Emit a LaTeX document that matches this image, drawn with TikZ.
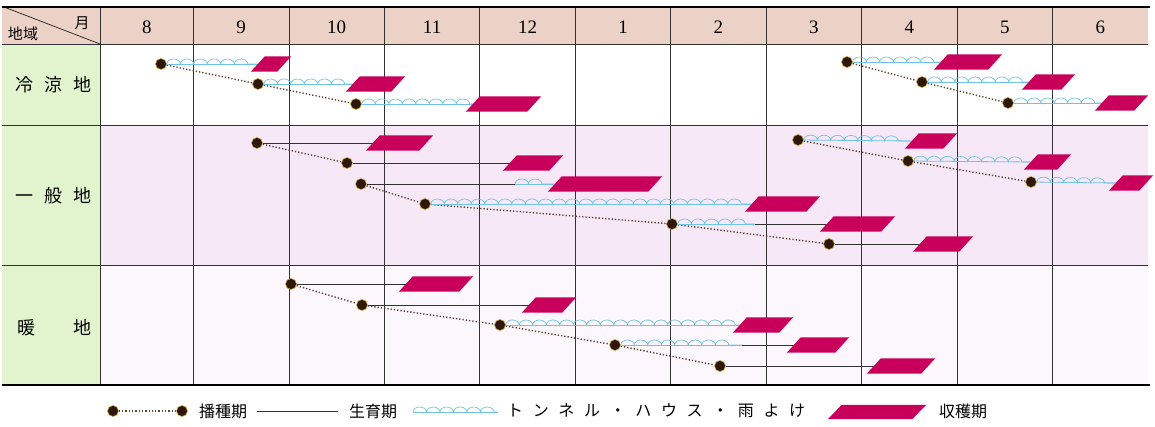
\documentclass[tikz,border=0pt]{standalone}
\usepackage{fontspec}
\setmainfont{Liberation Serif}
\newfontfamily\jp{Noto Sans CJK JP}
\usetikzlibrary{decorations.pathmorphing}
\definecolor{hdr}{RGB}{236,210,198}
\definecolor{leftc}{RGB}{226,244,206}
\definecolor{midrow}{RGB}{246,232,246}
\definecolor{lowrow}{RGB}{252,247,252}
\definecolor{harv}{RGB}{200,0,92}
\definecolor{tun}{RGB}{110,195,230}
\definecolor{dotc}{RGB}{45,22,12}
\definecolor{rim}{RGB}{200,170,60}
\definecolor{gridc}{RGB}{50,50,50}
\definecolor{dotl}{RGB}{95,65,45}
\pgfdeclarelayer{bg}
\pgfsetlayers{bg,main}
\newcommand\tunconn[2]{%
  \draw[tunbase] (#1) -- (#2);
  \draw[tunarch] (#1) -- (#2);}
\begin{document}
\begin{tikzpicture}[x=1pt,y=-1pt,
  sow/.style={circle, fill=dotc, draw=rim, line width=0.6pt, minimum size=11pt, inner sep=0pt},
  harvest/.style={rectangle, inner sep=0pt, minimum height=15pt, minimum width={#1-14}},
  growline/.style={draw=gridc, line width=0.9pt},
  tunbase/.style={draw=tun, line width=0.8pt},
  tunarch/.style={draw=tun, line width=0.7pt, decorate, decoration={bumps, segment length=27pt, amplitude=5pt}},
  seq/.style={draw=dotl, line width=1.4pt, dash pattern=on 1.3pt off 2pt},
  gridline/.style={draw=gridc, line width=0.8pt},
  thick rule/.style={draw=black, line width=2pt},
  month/.style={font=\fontsize{19}{19}\selectfont, inner sep=0pt},
  region/.style={font=\jp\fontsize{18}{18}\selectfont, inner sep=0pt},
  legtext/.style={font=\jp\fontsize{16}{16}\selectfont, inner sep=0pt, anchor=west},
  hdrtext/.style={font=\jp\fontsize{15}{15}\selectfont, inner sep=0pt}
]
\useasboundingbox (0,0) rectangle (1155,427);

\begin{pgfonlayer}{bg}
\fill[hdr] (2,7) rectangle (1148,44);
\fill[leftc] (2,44) rectangle (100,385);
\fill[midrow] (100,125) rectangle (1148,265);
\fill[lowrow] (100,265) rectangle (1148,385);
\draw[gridline] (2,44) -- (1148,44);
\draw[gridline] (2,125) -- (1148,125);
\draw[gridline] (2,265) -- (1148,265);
\draw[gridline] (100,7) -- (100,385);
\foreach \i in {0,...,9} {\draw[gridline] ({193.5+95.45*\i},7) -- ({193.5+95.45*\i},385);}
\draw[gridline] (4,7) -- (100,44);
\draw[thick rule] (2,7) -- (1150,7);
\draw[thick rule] (2,385) -- (1150,385);
\end{pgfonlayer}

% header texts
\node[hdrtext] (hm) at (82,23) {月};
\node[hdrtext] (hr) at (23,34) {地域};
\node[month] (m8) at (146.75,27) {8};
\foreach \m [count=\i from 0] in {9,10,11,12,1,2,3,4,5,6}
  {\node[month] (m\m) at ({193.5+95.45*(\i+0.5)},27) {\m};}

% region labels
\node[region] (r1) at (53.5,85) {\makebox[77pt][s]{冷\hfil 涼\hfil 地}};
\node[region] (r2) at (53.5,196) {\makebox[77pt][s]{一\hfil 般\hfil 地}};
\node[region] (r3) at (54.5,328) {\makebox[75pt][s]{暖\hfil 地}};

% 冷涼地
\node[sow] (a1) at (161,64) {};
\node[sow] (a2) at (258,84) {};
\node[sow] (a3) at (356,104) {};
\node[sow] (a4) at (847,62) {};
\node[sow] (a5) at (922,82) {};
\node[sow] (a6) at (1008,103) {};
\node[harvest=40] (h1) at (271,64) {};
\node[harvest=59] (h2) at (375.5,84) {};
\node[harvest=75] (h3) at (503.5,104) {};
\node[harvest=68] (h4) at (968,62) {};
\node[harvest=53] (h5) at (1048.5,82) {};
\node[harvest=53] (h6) at (1121.5,103) {};

% 一般地
\node[sow] (b1) at (257,143) {};
\node[sow] (b2) at (347,163) {};
\node[sow] (b3) at (361,184) {};
\node[sow] (b4) at (425,204) {};
\node[sow] (b5) at (672,224) {};
\node[sow] (b6) at (829,244) {};
\node[sow] (b7) at (798,140) {};
\node[sow] (b8) at (908,161) {};
\node[sow] (b9) at (1031,182) {};
\node[harvest=67] (g1) at (399.5,143) {};
\node[harvest=60] (g2) at (533,163) {};
\node[harvest=114] (g3) at (605,184) {};
\node[harvest=75] (g4) at (782.5,204) {};
\node[harvest=75] (g5) at (857.5,224) {};
\node[harvest=60] (g6) at (943,244) {};
\node[harvest=52] (g7) at (931,141) {};
\node[harvest=47] (g8) at (1047.5,162) {};
\node[harvest=44] (g9) at (1131,183) {};
\coordinate (b3t) at (515,184);
\coordinate (b5t) at (755,224);

% 暖地
\node[sow] (c1) at (291,284) {};
\node[sow] (c2) at (362,305) {};
\node[sow] (c3) at (500,325) {};
\node[sow] (c4) at (615,345) {};
\node[sow] (c5) at (720,366) {};
\node[harvest=74] (w1) at (436,284) {};
\node[harvest=54] (w2) at (549,305) {};
\node[harvest=60] (w3) at (763,325) {};
\node[harvest=62] (w4) at (818,345) {};
\node[harvest=68] (w5) at (901,366) {};
\coordinate (c4t) at (742,345);

% legend
\node[sow] (l1) at (113,411) {};
\node[sow] (l2) at (182,411) {};
\node[legtext] (lt1) at (199,411) {播種期};
\coordinate (lg1) at (257,411);
\coordinate (lg2) at (338,411);
\node[legtext] (lt2) at (349,411) {生育期};
\coordinate (ln1) at (413,412);
\coordinate (ln2) at (498,412);
\node[legtext] (lt3) at (507,411) {\makebox[298pt][s]{ト\hfil ン\hfil ネ\hfil ル\hfil ・\hfil ハ\hfil ウ\hfil ス\hfil ・\hfil 雨\hfil よ\hfil け}};
\node[harvest=98, minimum height=14pt] (lh) at (877,412) {};
\node[legtext] (lt4) at (939,411) {収穫期};

% harvest parallelograms
\foreach \n in {h1,h2,h3,h4,h5,h6,g1,g2,g3,g4,g5,g6,g7,g8,g9,w1,w2,w3,w4,w5,lh}
  {\fill[harv] ([xshift=-7pt]\n.south west) -- ([xshift=7pt]\n.north west) -- ([xshift=7pt]\n.north east) -- ([xshift=-7pt]\n.south east) -- cycle;}

\begin{pgfonlayer}{bg}
% sowing sequences
\draw[seq] (a1) -- (a2); \draw[seq] (a2) -- (a3);
\draw[seq] (a4) -- (a5); \draw[seq] (a5) -- (a6);
\draw[seq] (b1) -- (b2);
\draw[seq] (b3) -- (b4); \draw[seq] (b4) -- (b5); \draw[seq] (b5) -- (b6);
\draw[seq] (b7) -- (b8); \draw[seq] (b8) -- (b9);
\draw[seq] (c1) -- (c2); \draw[seq] (c2) -- (c3); \draw[seq] (c3) -- (c4); \draw[seq] (c4) -- (c5);
\draw[seq] (l1) -- (l2);
% growth / tunnel
\tunconn{a1}{h1.west}
\tunconn{a2}{h2.west}
\tunconn{a3}{h3.west}
\tunconn{a4}{h4.west}
\tunconn{a5}{h5.west}
\tunconn{a6}{h6.west}
\draw[growline] (b1) -- (g1.west);
\draw[growline] (b2) -- (g2.west);
\draw[growline] (b3) -- (b3t);
\tunconn{b3t}{g3.west}
\tunconn{b4}{g4.west}
\tunconn{b5}{b5t}
\draw[growline] (b5t) -- (g5.west);
\draw[growline] (b6) -- (g6.west);
\tunconn{b7}{g7.west}
\tunconn{b8}{g8.west}
\tunconn{b9}{g9.west}
\draw[growline] (c1) -- (w1.west);
\draw[growline] (c2) -- (w2.west);
\tunconn{c3}{w3.west}
\tunconn{c4}{c4t}
\draw[growline] (c4t) -- (w4.west);
\draw[growline] (c5) -- (w5.west);
\draw[growline] (lg1) -- (lg2);
\tunconn{ln1}{ln2}
\end{pgfonlayer}
\end{tikzpicture}
\end{document}
